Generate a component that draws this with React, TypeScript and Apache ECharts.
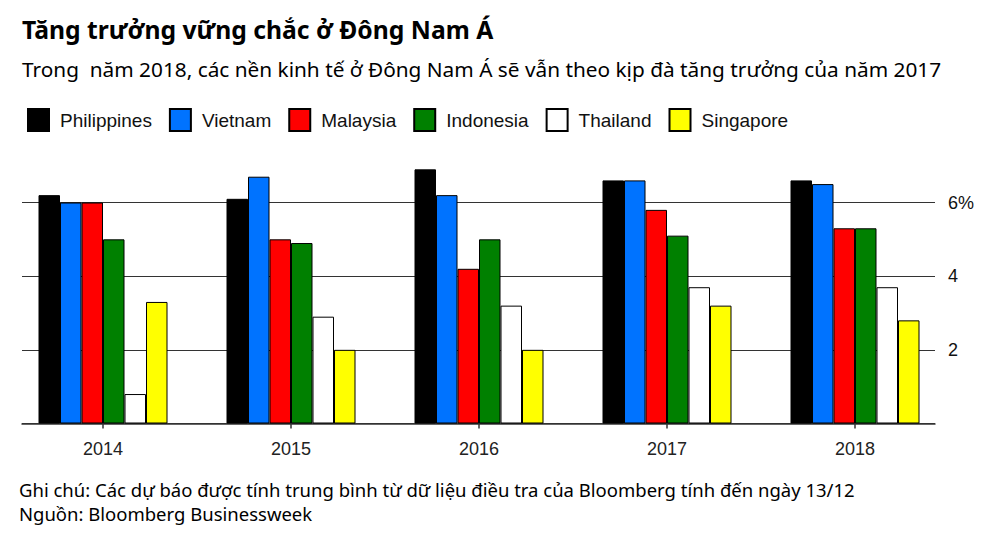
import React, { useEffect, useRef } from "react";
import * as echarts from "echarts";

const years = ["2014", "2015", "2016", "2017", "2018"];
const philippines = [6.2, 6.1, 6.9, 6.6, 6.6];
const vietnam = [6.0, 6.7, 6.2, 6.6, 6.5];
const malaysia = [6.0, 5.0, 4.2, 5.8, 5.3];
const indonesia = [5.0, 4.9, 5.0, 5.1, 5.3];
const thailand = [0.8, 2.9, 3.2, 3.7, 3.7];
const singapore = [3.3, 2.0, 2.0, 3.2, 2.8];

const seriesDefs = [
  { name: "Philippines", data: philippines, color: "#000000" },
  { name: "Vietnam", data: vietnam, color: "#0073ff" },
  { name: "Malaysia", data: malaysia, color: "#ff0000" },
  { name: "Indonesia", data: indonesia, color: "#008000" },
  { name: "Thailand", data: thailand, color: "#ffffff" },
  { name: "Singapore", data: singapore, color: "#ffff00" },
];

const titleText = "Tăng trưởng vững chắc ở Đông Nam Á";
const subtitleText =
  "Trong  năm 2018, các nền kinh tế ở Đông Nam Á sẽ vẫn theo kịp đà tăng trưởng của năm 2017";
const noteText =
  "Ghi chú: Các dự báo được tính trung bình từ dữ liệu điều tra của Bloomberg tính đến ngày 13/12";
const sourceText = "Nguồn: Bloomberg Businessweek";

const SANS = "'Liberation Sans', Arial, Helvetica, sans-serif";
const CAL = "'Noto Sans', 'Open Sans', sans-serif";

export default function App() {
  const ref = useRef<HTMLDivElement>(null);
  useEffect(() => {
    if (!ref.current) return;
    const chart = echarts.init(ref.current, null, { renderer: "svg" });
    const option: any = {
      animation: false,
      backgroundColor: "#ffffff",
      title: [
        {
          text: titleText,
          left: 22,
          top: 16.5,
          padding: 0,
          textStyle: { fontFamily: CAL, fontWeight: "bold", fontSize: 24.7, color: "#000" },
        },
        {
          text: subtitleText,
          left: 22,
          top: 58.5,
          padding: 0,
          textStyle: { fontFamily: CAL, fontWeight: "normal", fontSize: 20.8, color: "#000" },
        },
        {
          text: noteText,
          left: 19,
          top: 480,
          padding: 0,
          textStyle: { fontFamily: CAL, fontWeight: "normal", fontSize: 18.5, color: "#000" },
        },
        {
          text: sourceText,
          left: 19,
          top: 504,
          padding: 0,
          textStyle: { fontFamily: CAL, fontWeight: "normal", fontSize: 18.5, color: "#000" },
        },
      ],
      legend: {
        left: 27,
        top: 108,
        padding: 0,
        icon: "rect",
        itemWidth: 21,
        itemHeight: 22,
        itemGap: 17,
        textStyle: { fontFamily: SANS, fontSize: 19, color: "#111", padding: [0, 0, 0, 6] },
        data: seriesDefs.map((s) => s.name),
      },
      grid: [
        { left: 9, right: 51, top: 202.5, bottom: 129.5 },
        { left: 22, right: 65, top: 202.5, bottom: 129.5 },
      ],
      xAxis: [
        {
          type: "category",
          gridIndex: 0,
          data: years,
          axisLine: { show: false },
          axisTick: {
            show: true,
            alignWithLabel: true,
            length: 5,
            lineStyle: { color: "#333", width: 1.5 },
          },
          axisLabel: { fontFamily: SANS, fontSize: 18, color: "#222", margin: 16 },
        },
        {
          type: "value",
          gridIndex: 1,
          min: 0,
          max: 1,
          axisLine: { show: true, lineStyle: { color: "#333", width: 1.5 } },
          axisTick: { show: false },
          axisLabel: { show: false },
          splitLine: { show: false },
        },
      ],
      yAxis: [
        {
          type: "value",
          gridIndex: 0,
          min: 0,
          max: 6,
          interval: 2,
          show: false,
          splitLine: { show: false },
        },
        {
          type: "value",
          gridIndex: 1,
          position: "right",
          min: 0,
          max: 6,
          interval: 2,
          axisLine: { show: false },
          axisTick: { show: false },
          splitLine: { show: true, lineStyle: { color: "#333", width: 1.2 } },
          axisLabel: {
            fontFamily: SANS,
            fontSize: 18,
            color: "#111",
            margin: 13,
            formatter: (v: number) => (v === 0 ? "" : v === 6 ? "6%" : String(v)),
          },
        },
      ],
      series: seriesDefs.map((s) => ({
        name: s.name,
        type: "bar",
        xAxisIndex: 0,
        yAxisIndex: 0,
        data: s.data,
        barWidth: 21.5,
        barGap: "0%",
        clip: false,
        z: 5,
        itemStyle: { color: s.color, borderColor: "#000", borderWidth: 1 },
      })),
    };
    chart.setOption(option);
    return () => chart.dispose();
  }, []);
  return (
    <div
      ref={ref}
      style={{ position: "fixed", left: 0, top: 0, width: 1000, height: 553 }}
    />
  );
}
